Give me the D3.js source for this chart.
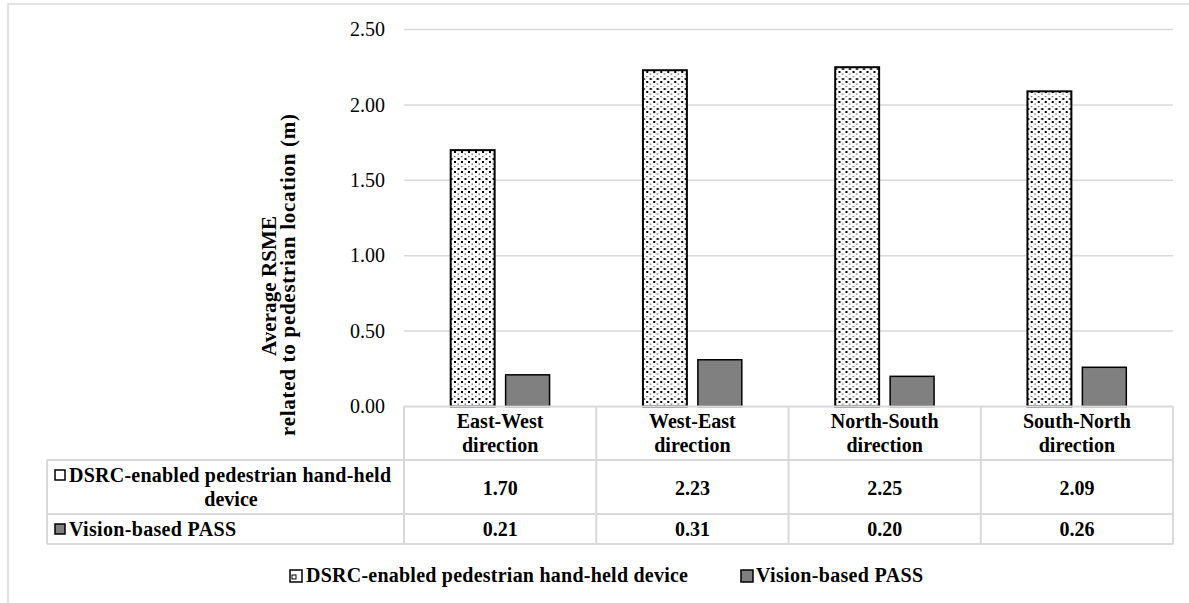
<!DOCTYPE html>
<html lang="en">
<head>
    <meta charset="UTF-8">
    <title>Average RSME</title>
    <script src="https://cdn.jsdelivr.net/npm/d3@7"></script>
    <style>
        body { margin: 0; background: #fff; }
        svg text { font-family: "Times New Roman", "Liberation Serif", "DejaVu Serif", serif; fill: #000; }
    </style>
</head>
<body>
<div id="graphic"></div>

<script>
    // data
    var categories = ['East-West direction', 'West-East direction', 'North-South direction', 'South-North direction'];
    var seriesNames = ['DSRC-enabled pedestrian hand-held device', 'Vision-based PASS'];
    var dsrcValues = [1.70, 2.23, 2.25, 2.09];
    var visionValues = [0.21, 0.31, 0.20, 0.26];
    var yTicks = [0, 0.5, 1, 1.5, 2, 2.5];

    var width = 1189;
    var height = 603;

    var svg = d3.select('#graphic')
                .append('svg')
                .attr('width', width)
                .attr('height', height);

    // dotted fill like excel's 20% pattern
    var defs = svg.append('defs');
    var pat = defs.append('pattern')
        .attr('id', 'dots')
        .attr('patternUnits', 'userSpaceOnUse')
        .attr('width', 7)
        .attr('height', 10);
    pat.append('rect').attr('width', 7).attr('height', 10).attr('fill', '#fff');
    pat.append('rect').attr('x', 1).attr('y', 1).attr('width', 2).attr('height', 2).attr('fill', '#000');
    pat.append('rect').attr('x', 1).attr('y', 6).attr('width', 1.5).attr('height', 1.2).attr('fill', '#666');
    pat.append('rect').attr('x', 4.5).attr('y', 3.5).attr('width', 1.5).attr('height', 1.2).attr('fill', '#666');
    pat.append('rect').attr('x', 4.5).attr('y', 8).attr('width', 2).attr('height', 2).attr('fill', '#000');

    // outer chart border
    svg.append('rect')
        .attr('x', 8).attr('y', 4)
        .attr('width', 1195).attr('height', 620)
        .attr('fill', 'none')
        .attr('stroke', '#d9d9d9')
        .attr('stroke-width', 1.5);

    var plotLeft = 404, plotRight = 1173;
    var plotTop = 29.5, plotBase = 406.5;

    var y = d3.scaleLinear().domain([0, 2.5]).range([plotBase, plotTop]);
    var x0 = d3.scaleBand().domain(categories).range([plotLeft, plotRight]);
    var x1 = d3.scaleBand().domain(seriesNames).range([0, x0.bandwidth()])
               .paddingInner(0.2).paddingOuter(0.85);

    // gridlines
    svg.selectAll('.grid')
        .data(yTicks.filter(function(d) { return d > 0; }))
        .join('line')
        .attr('class', 'grid')
        .attr('x1', plotLeft).attr('x2', plotRight)
        .attr('y1', function(d) { return y(d); })
        .attr('y2', function(d) { return y(d); })
        .attr('stroke', '#d9d9d9')
        .attr('stroke-width', 1.5);

    // y tick labels
    svg.selectAll('.ytick')
        .data(yTicks)
        .join('text')
        .attr('class', 'ytick')
        .attr('x', 385)
        .attr('y', function(d) { return y(d); })
        .attr('dy', '0.33em')
        .attr('text-anchor', 'end')
        .style('font-size', '20px')
        .text(function(d) { return d3.format('.2f')(d); });

    // y axis title, two lines
    svg.append('text')
        .attr('transform', 'translate(276,286) rotate(-90)')
        .attr('text-anchor', 'middle')
        .style('font-size', '21px')
        .style('font-weight', 'bold')
        .attr('textLength', 140)
        .text('Average RSME');
    svg.append('text')
        .attr('transform', 'translate(295,275) rotate(-90)')
        .attr('text-anchor', 'middle')
        .style('font-size', '21px')
        .style('font-weight', 'bold')
        .attr('textLength', 322)
        .text('related to pedestrian location (m)');

    // bars
    var rows = categories.map(function(c, i) {
        return { cat: c, values: [dsrcValues[i], visionValues[i]] };
    });

    var groups = svg.selectAll('.cat')
        .data(rows)
        .join('g')
        .attr('class', 'cat')
        .attr('transform', function(d) { return 'translate(' + x0(d.cat) + ',0)'; });

    groups.selectAll('rect')
        .data(function(d) {
            return d.values.map(function(v, j) { return { name: seriesNames[j], value: v, j: j }; });
        })
        .join('rect')
        .attr('x', function(d) { return x1(d.name); })
        .attr('width', x1.bandwidth())
        .attr('y', function(d) { return y(d.value); })
        .attr('height', function(d) { return plotBase - y(d.value); })
        .attr('fill', function(d) { return d.j == 0 ? 'url(#dots)' : '#808080'; })
        .attr('stroke', '#000')
        .attr('stroke-width', function(d) { return d.j == 0 ? 2 : 1.5; });

    // data table under the plot
    var tableLeft = 47;
    var rowY = [406.5, 460, 514, 544];
    var gridColor = '#d9d9d9';

    svg.append('line')
        .attr('x1', plotLeft).attr('x2', plotRight)
        .attr('y1', rowY[0]).attr('y2', rowY[0])
        .attr('stroke', gridColor).attr('stroke-width', 2);
    rowY.slice(1).forEach(function(yy) {
        svg.append('line')
            .attr('x1', tableLeft).attr('x2', plotRight)
            .attr('y1', yy).attr('y2', yy)
            .attr('stroke', gridColor).attr('stroke-width', 2);
    });
    svg.append('line')
        .attr('x1', tableLeft).attr('x2', tableLeft)
        .attr('y1', rowY[1]).attr('y2', rowY[3])
        .attr('stroke', gridColor).attr('stroke-width', 2);
    var colEdges = categories.map(function(c) { return x0(c); }).concat([plotRight]);
    svg.selectAll('.vline')
        .data(colEdges)
        .join('line')
        .attr('class', 'vline')
        .attr('x1', function(d) { return d; }).attr('x2', function(d) { return d; })
        .attr('y1', rowY[0]).attr('y2', rowY[3])
        .attr('stroke', gridColor).attr('stroke-width', 2);

    // header cells
    groups.append('text')
        .attr('text-anchor', 'middle')
        .style('font-size', '20px')
        .style('font-weight', 'bold')
        .selectAll('tspan')
        .data(function(d) {
            var parts = d.cat.split(' ');
            return [parts[0], parts.slice(1).join(' ')];
        })
        .join('tspan')
        .attr('x', x0.bandwidth() / 2)
        .attr('y', function(d, i) { return 428 + i * 24; })
        .text(function(d) { return d; });

    // value cells
    var valueRowY = [495, 536];
    groups.each(function(d) {
        var g = d3.select(this);
        d.values.forEach(function(v, j) {
            g.append('text')
                .attr('x', x0.bandwidth() / 2)
                .attr('y', valueRowY[j])
                .attr('text-anchor', 'middle')
                .style('font-size', '20px')
                .style('font-weight', 'bold')
                .text(d3.format('.2f')(v));
        });
    });

    // row labels with legend keys
    function key(xk, yk, size, j) {
        svg.append('rect')
            .attr('x', xk).attr('y', yk)
            .attr('width', size).attr('height', size)
            .attr('fill', j == 0 ? '#fff' : '#808080')
            .attr('stroke', '#000')
            .attr('stroke-width', 1.5);
    }

    key(55, 470, 10, 0);
    svg.append('text')
        .attr('x', 69).attr('y', 482)
        .style('font-size', '20px').style('font-weight', 'bold')
        .attr('textLength', 322)
        .text('DSRC-enabled pedestrian hand-held');
    svg.append('text')
        .attr('x', 231).attr('y', 506)
        .attr('text-anchor', 'middle')
        .style('font-size', '20px').style('font-weight', 'bold')
        .text('device');

    key(55, 524, 10, 1);
    svg.append('text')
        .attr('x', 69).attr('y', 536)
        .style('font-size', '20px').style('font-weight', 'bold')
        .attr('textLength', 167)
        .text('Vision-based PASS');

    // bottom legend
    key(290, 570, 12, 0);
    svg.append('rect')
        .attr('x', 292).attr('y', 575).attr('width', 4).attr('height', 4)
        .attr('fill', 'none').attr('stroke', '#000').attr('stroke-width', 1);
    svg.append('text')
        .attr('x', 306).attr('y', 582)
        .style('font-size', '20px').style('font-weight', 'bold')
        .attr('textLength', 382)
        .text('DSRC-enabled pedestrian hand-held device');

    key(741, 570, 12, 1);
    svg.append('text')
        .attr('x', 756).attr('y', 582)
        .style('font-size', '20px').style('font-weight', 'bold')
        .attr('textLength', 167)
        .text('Vision-based PASS');
</script>
</body>
</html>
